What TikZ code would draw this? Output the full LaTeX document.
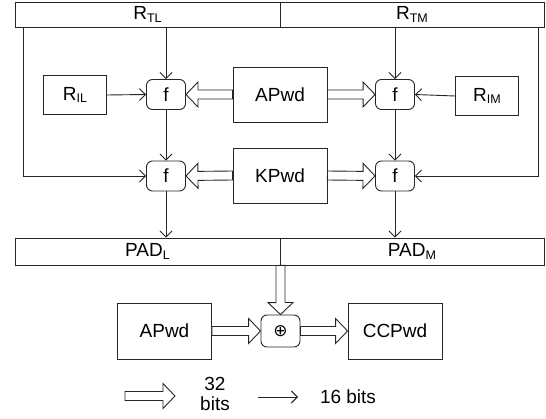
\documentclass[tikz,border=0pt]{standalone}
\usepackage{fontspec}
\setmainfont{Liberation Sans}
\newfontfamily\symfont{DejaVu Sans}
\usetikzlibrary{calc,arrows.meta}
\newcommand{\sbs}[1]{\raisebox{-2.5pt}{\fontsize{12.5}{14}\selectfont #1}}
\newcommand{\fatarr}[2]{%
  \path (#1) coordinate (fa-s) (#2) coordinate (fa-e);
  \path ($(fa-e)!12pt!(fa-s)$) coordinate (fa-h);
  \draw[ln,fill=white] ($(fa-s)!4.5pt!90:(fa-e)$) -- ($(fa-h)!4.5pt!-90:(fa-s)$)
    -- ($(fa-h)!12.5pt!-90:(fa-s)$) -- (fa-e) -- ($(fa-h)!12.5pt!90:(fa-s)$)
    -- ($(fa-h)!4.5pt!90:(fa-s)$) -- ($(fa-s)!4.5pt!-90:(fa-e)$) -- cycle;}
\begin{document}
\begin{tikzpicture}[x=1pt,y=-1pt,
  ln/.style={draw=black!85,line width=0.9pt},
  txt/.style={font=\fontsize{19}{21}\selectfont},
  bar/.style={ln,txt,minimum height=25pt,inner sep=0pt},
  fbox/.style={ln,txt,rounded corners=6pt,minimum width=39pt,minimum height=30pt,inner sep=0pt},
  blk/.style={ln,txt,minimum width=94pt,minimum height=55pt,inner sep=0pt},
  sblk/.style={ln,txt,minimum width=63pt,minimum height=39pt,inner sep=0pt},
  arr/.style={ln,-{Straight Barb[length=6pt,width=12pt]}}]
\useasboundingbox[fill=white] (0,0) rectangle (546,419);
% top bar
\node[bar,minimum width=265pt] (TL) at (147.5,14.5) {R\sbs{TL}};
\node[bar,minimum width=264pt] (TM) at (412,14.5) {R\sbs{TM}};
% bottom bar
\node[bar,minimum width=265pt,minimum height=27pt] (PL) at (147.5,251.5) {PAD\sbs{L}};
\node[bar,minimum width=264pt,minimum height=27pt] (PM) at (412,251.5) {PAD\sbs{M}};
% f boxes
\node[fbox] (f1) at (166,94.5) {f};
\node[fbox] (f2) at (395,94.5) {f};
\node[fbox] (f3) at (166,176) {f};
\node[fbox] (f4) at (395,176) {f};
% blocks
\node[sblk] (RIL) at (75,95) {R\sbs{IL}};
\node[sblk] (RIM) at (487,96) {R\sbs{IM}};
\node[blk] (AP) at (280,94.5) {APwd};
\node[blk] (KP) at (280,175.5) {KPwd};
\node[blk,minimum height=56pt] (AP2) at (164.5,331) {APwd};
\node[blk,minimum height=56pt] (CC) at (395,331) {CCPwd};
\node[fbox,minimum height=32pt] (X) at (280.5,331) {\symfont\fontsize{17}{19}\selectfont ⊕};
% thin connectors
\draw[arr] (f1.north |- TL.south) -- (f1.north);
\draw[arr] (f2.north |- TM.south) -- (f2.north);
\draw[arr] (f1.south) -- (f3.north);
\draw[arr] (f2.south) -- (f4.north);
\draw[arr] (f3.south) -- (f3.south |- PL.north);
\draw[arr] (f4.south) -- (f4.south |- PM.north);
\draw[arr] (RIL.east) -- (f1.west);
\draw[arr] (RIM.west) -- (f2.east);
\coordinate (lt) at (23,27);
\coordinate (rt) at (538,27);
\draw[arr] (lt) |- (f3.west);
\draw[arr] (rt) |- (f4.east);
% fat connectors
\fatarr{AP.west}{f1.east}
\fatarr{AP.east}{f2.west}
\fatarr{KP.west}{f3.east}
\fatarr{KP.east}{f4.west}
\fatarr{PL.south east}{X.north}
\fatarr{AP2.east}{X.west}
\fatarr{X.east}{CC.west}
% legend
\coordinate (la) at (125,396);
\coordinate (lb) at (175,396);
\fatarr{la}{lb}
\node[txt,align=center,font=\fontsize{19}{20}\selectfont] (l32) at (215,394) {32\\bits};
\coordinate (lc) at (258,397);
\coordinate (ld) at (298,397);
\draw[arr] (lc) -- (ld);
\node[txt] (l16) at (348,397) {16 bits};
\end{tikzpicture}
\end{document}
